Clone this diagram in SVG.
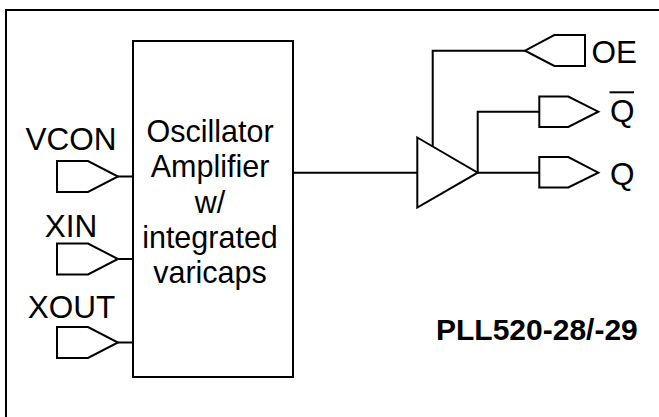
<svg xmlns="http://www.w3.org/2000/svg" width="659" height="417" viewBox="0 0 659 417">
<style>
.ln{fill:none;stroke:#000;stroke-width:2;stroke-linejoin:miter}
.sh{fill:#fff;stroke:#000;stroke-width:2;stroke-linejoin:miter}
.t{font-family:"Liberation Sans",Arial,sans-serif;font-size:30.5px;fill:#000}
.p{font-family:"Liberation Sans",Arial,sans-serif;font-size:31.5px;fill:#000}
.b{font-family:"Liberation Sans",Arial,sans-serif;font-size:30px;font-weight:bold;fill:#000}
</style>
<rect x="0" y="0" width="659" height="417" fill="#fff"/>
<rect id="frame" class="ln" x="6" y="10" width="662" height="420"/>
<g id="connectors">
<path class="ln" d="M118 176.5H133"/>
<path class="ln" d="M118 259H133"/>
<path class="ln" d="M118 342.5H133"/>
<path class="ln" d="M293 172.7H417.3"/>
<path class="ln" d="M432.7 146.3V50.7H525"/>
<path class="ln" d="M477.7 172.7H539.3"/>
<path class="ln" d="M477.7 172.7V111.7H539.3"/>
</g>
<g id="osc">
<rect class="sh" x="133" y="41" width="160" height="336"/>
<g class="t" text-anchor="middle">
<text x="210" y="142">Oscillator</text>
<text x="210" y="177">Amplifier</text>
<text x="210" y="212.5">w/</text>
<text x="210" y="248">integrated</text>
<text x="210" y="283">varicaps</text>
</g>
</g>
<g id="vcon">
<path class="sh" d="M57 161H88L118 176.5L88 192H57Z"/>
<text class="p" x="71" y="150" text-anchor="middle">VCON</text>
</g>
<g id="xin">
<path class="sh" d="M57 243.5H88L118 259L88 274.5H57Z"/>
<text class="p" x="71" y="237" text-anchor="middle">XIN</text>
</g>
<g id="xout">
<path class="sh" d="M57 327H88L118 342.5L88 358H57Z"/>
<text class="p" x="71.5" y="317.5" text-anchor="middle">XOUT</text>
</g>
<g id="buffer">
<path class="sh" d="M417.3 137.5L477.7 172.7L417.3 207.5Z"/>
</g>
<g id="oe">
<path class="sh" d="M585 35H554.3L525 50.7L554.3 66H585Z"/>
<text class="p" x="591.5" y="63.3">OE</text>
</g>
<g id="qbar">
<path class="sh" d="M539.3 96.5H568.3L598.3 111.7L568.3 127H539.3Z"/>
<text class="p" x="610" y="121.7">Q</text>
<path class="ln" d="M609.5 92.3H634"/>
</g>
<g id="q">
<path class="sh" d="M539.3 157H568.3L598.3 172.7L568.3 187.5H539.3Z"/>
<text class="p" x="610" y="185">Q</text>
</g>
<text id="title" class="b" x="436" y="340">PLL520-28/-29</text>
</svg>
